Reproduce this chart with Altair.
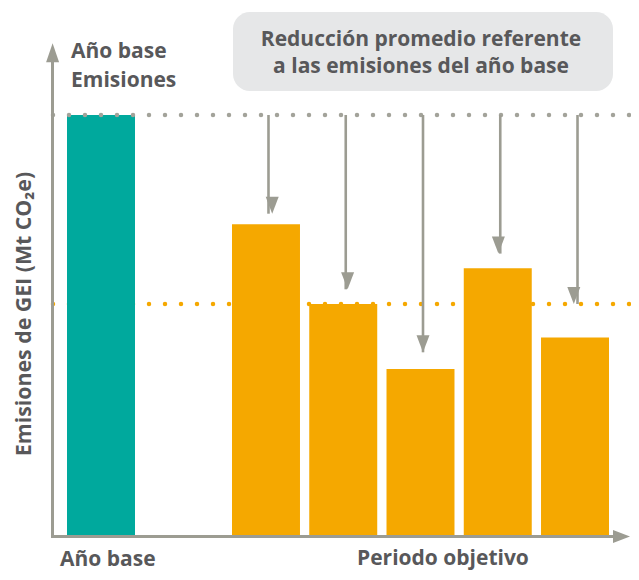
import altair as alt
import pandas as pd

# ---- data ----
base_label = "Año base"
base_value = [100]
target_periods = ["P1", "P2", "P3", "P4", "P5"]
target_values = [74, 55, 39.5, 63.5, 47]
arrow_ends = [76.5, 58.5, 43.5, 67, 55]
average_value = [55]

# texts
title_left = ["Año base", "Emisiones"]
box_lines = ["Reducción promedio referente", "a las emisiones del año base"]
x_label_base = "Año base"
x_label_target = "Periodo objetivo"
y_title = "Emisiones de GEI (Mt CO₂e)"

TEAL = "#00a99d"
ORANGE = "#f5a800"
GRAY = "#9c9c92"
DOT_GRAY = "#a3a39a"
TEXT = "#58585a"
BOX = "#e6e7e8"
FONT = "Open Sans"

W, H = 623, 564

yscale = alt.Scale(domain=[0, 100], range=[527, 107])

base_df = pd.DataFrame({"cat": [base_label], "v": base_value})
tgt_df = pd.DataFrame({"cat": target_periods, "v": target_values})
arr_df = pd.DataFrame({"cat": target_periods, "top": base_value * len(target_periods), "end": arrow_ends})
avg_df = pd.DataFrame({"v": average_value})

# orange dotted average line (behind bars)
avg_line = alt.Chart(avg_df).mark_rule(
    color=ORANGE, strokeDash=[0, 16], strokeCap="round", strokeWidth=4.5
).encode(x=alt.value(45), x2=alt.value(W), y=alt.Y("v:Q", scale=yscale, axis=None))

base_bar = alt.Chart(base_df).mark_bar(color=TEAL).encode(
    x=alt.X("cat:N", scale=alt.Scale(domain=[base_label], range=[59, 127], paddingInner=0, paddingOuter=0), axis=None),
    y=alt.Y("v:Q", scale=yscale, axis=None),
)

tgt_bars = alt.Chart(tgt_df).mark_bar(color=ORANGE).encode(
    x=alt.X("cat:N", scale=alt.Scale(domain=target_periods, range=[224, 601], paddingInner=0.12, paddingOuter=0), axis=None),
    y=alt.Y("v:Q", scale=yscale, axis=None),
)

base_line = alt.Chart(base_df).mark_rule(
    color=DOT_GRAY, strokeDash=[0, 16], strokeCap="round", strokeWidth=4.5
).encode(x=alt.value(45), x2=alt.value(W), y=alt.Y("v:Q", scale=yscale, axis=None))

arrow_x = alt.X("cat:N", scale=alt.Scale(domain=target_periods, range=[226.5, 603.5], paddingInner=0.12, paddingOuter=0), axis=None)

arrow_stems = alt.Chart(arr_df).mark_rule(color=GRAY, strokeWidth=2.6).encode(
    x=arrow_x,
    y=alt.Y("top:Q", scale=yscale, axis=None),
    y2=alt.Y2("end:Q"),
)

arrow_heads = alt.Chart(arr_df).mark_point(
    shape="M-0.765,-2L0.765,-2L0,0Z", size=289, filled=True, color=GRAY, opacity=1, strokeWidth=0
).encode(x=arrow_x, y=alt.Y("end:Q", scale=yscale, axis=None))

# axes drawn as arrows
y_axis = alt.Chart().mark_rule(color=GRAY, strokeWidth=3).encode(
    x=alt.value(44.5), y=alt.value(530), y2=alt.value(50)
)
x_axis = alt.Chart().mark_rule(color=GRAY, strokeWidth=3).encode(
    x=alt.value(43), x2=alt.value(610), y=alt.value(528.5)
)
y_head = alt.Chart().mark_point(
    shape="M-0.684,2L0.684,2L0,0Z", size=361, filled=True, color=GRAY, opacity=1, strokeWidth=0
).encode(x=alt.value(44.6), y=alt.value(35.3))
x_head = alt.Chart().mark_point(
    shape="M-2,-0.765L-2,0.765L0,0Z", size=289, filled=True, color=GRAY, opacity=1, strokeWidth=0
).encode(x=alt.value(622), y=alt.value(528.5))

def label(text, x, y, align="left", **kw):
    return alt.Chart().mark_text(
        text=text, font=FONT, fontSize=21, fontWeight="bold", color=TEXT,
        align=align, baseline="alphabetic", **kw
    ).encode(x=alt.value(x), y=alt.value(y))

box = alt.Chart().mark_rect(color=BOX, cornerRadius=17).encode(
    x=alt.value(225), x2=alt.value(605), y=alt.value(4), y2=alt.value(83)
)

texts = [
    label(title_left[0], 63, 50),
    label(title_left[1], 63, 79),
    label(box_lines[0], 413, 38, align="center"),
    label(box_lines[1], 413, 64.5, align="center"),
    label(x_label_base, 52, 557.5),
    label(x_label_target, 349, 557),
    alt.Chart().mark_text(
        text=y_title, font=FONT, fontSize=21.3, fontWeight="bold", color=TEXT,
        angle=270, align="center", baseline="middle"
    ).encode(x=alt.value(17), y=alt.value(306)),
]

chart = alt.layer(
    avg_line, base_bar, tgt_bars, base_line, arrow_stems, arrow_heads,
    y_axis, x_axis, y_head, x_head, box, *texts
).resolve_scale(x="independent").properties(
    width=W, height=H, autosize=alt.AutoSizeParams(type="none"), padding=0
).configure_view(stroke=None)

chart.save("out.html", embed_options={"renderer": "svg", "actions": False})
